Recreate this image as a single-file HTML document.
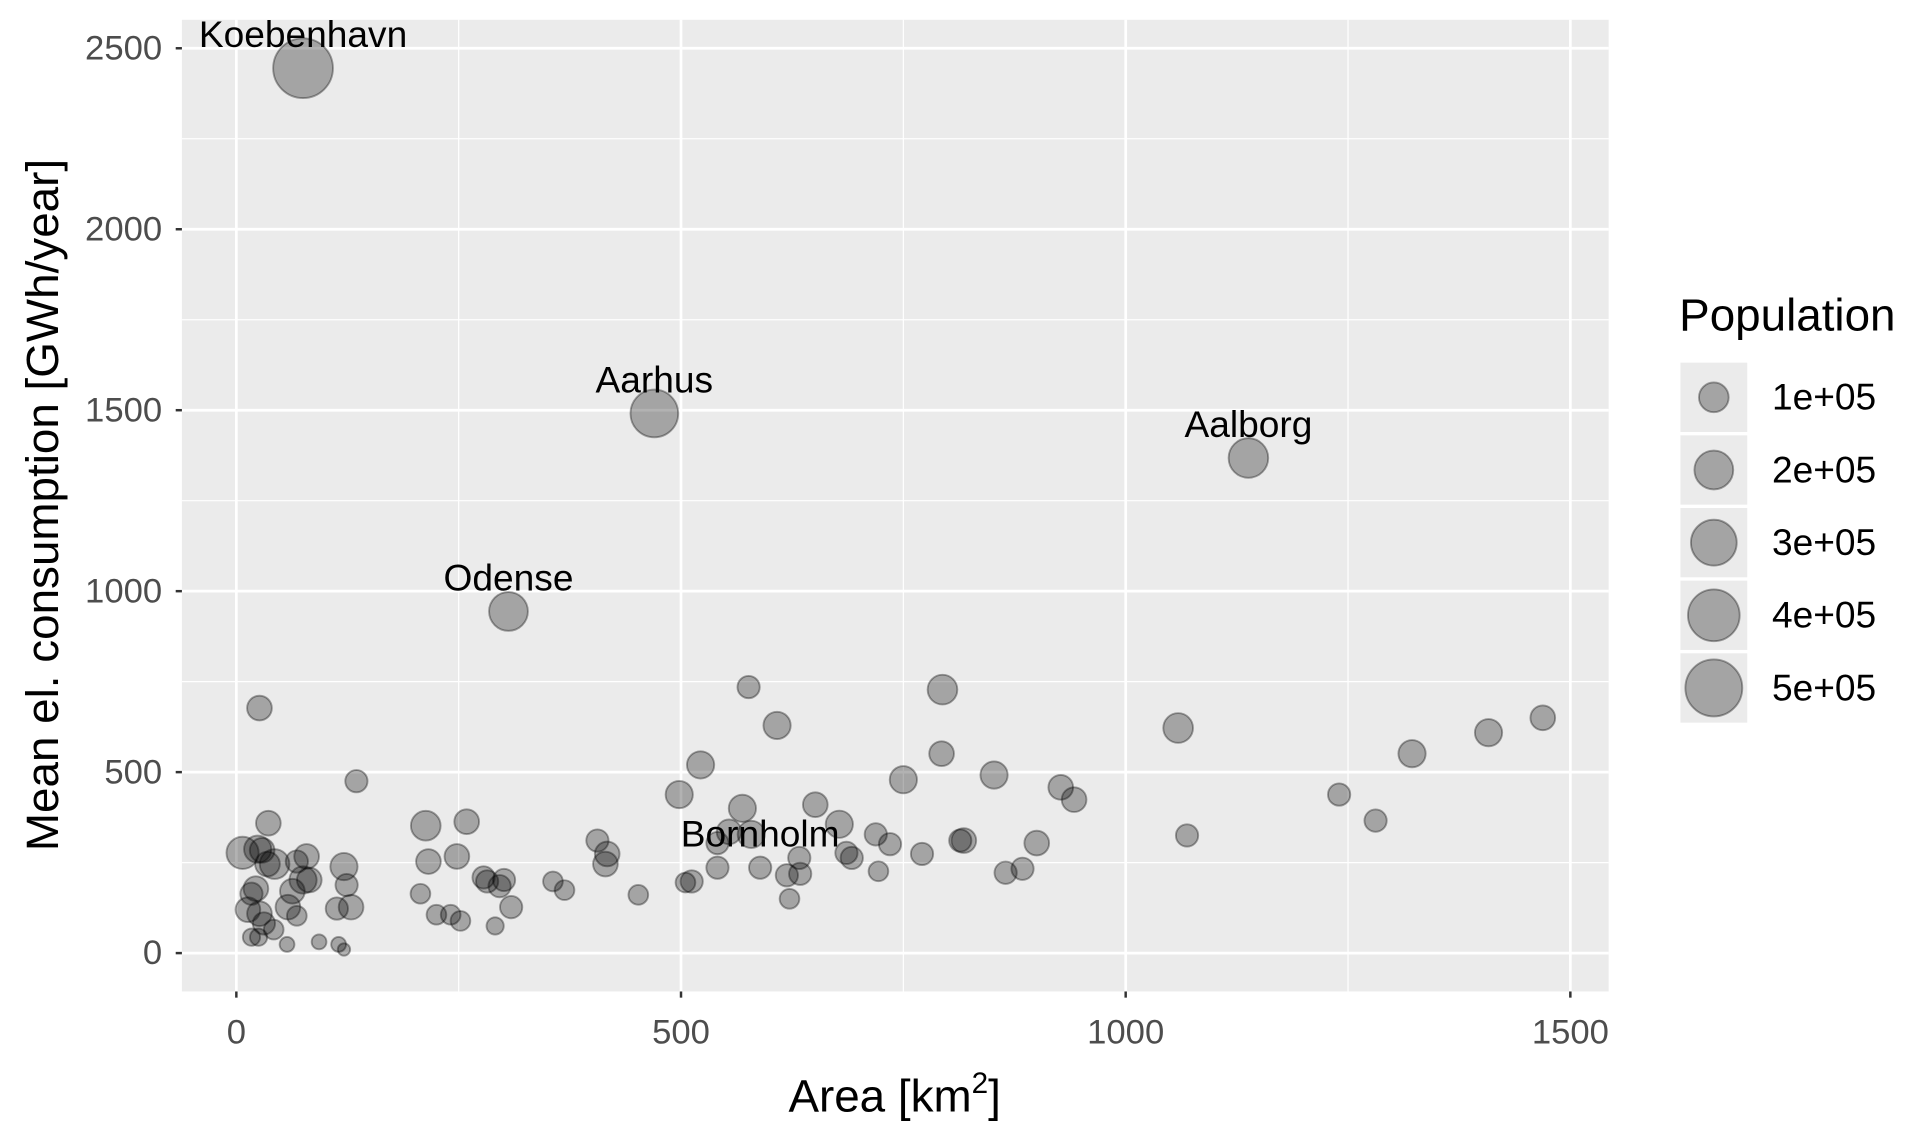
<!DOCTYPE html>
<html><head><meta charset="utf-8"><style>
html,body{margin:0;padding:0;background:#fff;}
svg{display:block;font-family:"Liberation Sans",sans-serif;}
</style></head><body>
<svg id="chart" width="1918" height="1140" viewBox="0 0 1550 921" preserveAspectRatio="none" xmlns="http://www.w3.org/2000/svg">
<g id="g"></g>
</svg>
<script>
const areas=[26,135,7,24,29,36,43,35,79,68,82,75,22,17,13,26,31,42,17,25,57,93,115,121,63,68,58,121,124,113,129,213,259,216,248,207,225,241,252,278,282,296,301,309,291,356,369,406,417,415,452,505,512,498,522,569,576,608,554,579,541,633,619,634,622,651,678,686,692,719,735,722,771,750,794,793,814,818,852,865,884,900,927,942,1059,1069,1240,1281,1322,1408,1469,541,75,470,1138,306,589];
const consumption=[677,475,277,287,284,359,246,246,267,253,202,202,178,164,120,109,82,65,44,44,24,31,24,10,171,103,127,239,188,123,127,352,363,253,267,164,106,106,89,209,198,185,202,127,75,198,174,311,274,246,161,195,198,438,520,400,735,629,335,328,236,263,215,219,150,410,356,277,263,328,301,226,274,479,728,551,311,311,492,222,233,304,458,424,622,325,438,366,551,609,650,304,2445,1491,1368,944,236];
const population=[60000,44000,124000,79000,60000,60000,100000,60000,60000,44000,60000,79000,60000,44000,60000,60000,44000,30000,19000,19000,10600,10600,10600,4600,60000,30000,60000,79000,44000,44000,60000,100000,60000,60000,60000,30000,30000,30000,30000,44000,44000,44000,44000,44000,19000,30000,30000,44000,60000,60000,30000,30000,44000,79000,79000,79000,44000,79000,60000,79000,44000,44000,44000,44000,30000,60000,79000,44000,44000,44000,44000,30000,44000,79000,100000,60000,44000,60000,79000,44000,44000,60000,60000,60000,100000,44000,44000,44000,79000,79000,60000,44000,560000,330000,210000,200000,44000];
const cityNames=["Koebenhavn","Aarhus","Aalborg","Odense","Bornholm"];
const cityArea=[75,470,1138,306,589];
const cityCons=[2445,1491,1368,944,236];
const xTicks=[0,500,1000,1500];
const yTicks=[0,500,1000,1500,2000,2500];
const legendPops=[100000,200000,300000,400000,500000];
const legendLabels=["1e+05","2e+05","3e+05","4e+05","5e+05"];

const NS="http://www.w3.org/2000/svg";
const g=document.getElementById('g');
const PL=147,PR=1300,PT=16,PB=801;
const X=v=>191+v*0.7187;
const Y=v=>770-v*0.2924;
const R=p=>3.1+8.9*Math.sqrt(p/1e5);
function mk(tag,attrs,parent){const e=document.createElementNS(NS,tag);for(const k in attrs)e.setAttribute(k,attrs[k]);(parent||g).appendChild(e);return e;}

let e=mk('rect',{x:PL,y:PT,width:PR-PL,height:PB-PT,fill:'#ebebeb'});


for(let i=0;i<xTicks.length-1;i++){const v=(xTicks[i]+xTicks[i+1])/2;
 e=mk('line',{x1:X(v),x2:X(v),y1:PT,y2:PB,stroke:'#fff','stroke-width':1});
 
 }
for(let i=0;i<yTicks.length-1;i++){const v=(yTicks[i]+yTicks[i+1])/2;
 e=mk('line',{x1:PL,x2:PR,y1:Y(v),y2:Y(v),stroke:'#fff','stroke-width':1});
 
 }
xTicks.forEach(v=>{
 e=mk('line',{x1:X(v),x2:X(v),y1:PT,y2:PB,stroke:'#fff','stroke-width':2.2});
 
 
 e=mk('line',{x1:X(v),x2:X(v),y1:PB,y2:PB+5,stroke:'#333','stroke-width':2});
 
 
 e=mk('text',{x:X(v),y:843,'text-anchor':'middle','font-size':28,fill:'#4d4d4d'});e.textContent=v;
 
 
});
yTicks.forEach(v=>{
 e=mk('line',{x1:PL,x2:PR,y1:Y(v),y2:Y(v),stroke:'#fff','stroke-width':2.2});
 
 
 e=mk('line',{x1:PL-5,x2:PL,y1:Y(v),y2:Y(v),stroke:'#333','stroke-width':2});
 
 
 e=mk('text',{x:PL-16,y:Y(v)+9,'text-anchor':'end','font-size':28,fill:'#4d4d4d'});e.textContent=v;
 
 
});
for(let i=0;i<areas.length;i++){
 e=mk('circle',{cx:X(areas[i]),cy:Y(consumption[i]),r:R(population[i]),fill:'rgba(0,0,0,0.3)',stroke:'rgba(0,0,0,0.35)','stroke-width':1.5});
 
 
}
for(let i=0;i<cityNames.length;i++){
 e=mk('text',{x:X(cityArea[i]),y:Y(cityCons[i])-17,'text-anchor':'middle','font-size':30,fill:'#000'});e.textContent=cityNames[i];
 
 
}
e=mk('text',{x:0,y:0,'text-anchor':'middle','font-size':37,fill:'#000',transform:'translate(47,408) rotate(-90)'});e.textContent='Mean el. consumption [GWh/year]';


e=mk('text',{x:723,y:898,'text-anchor':'middle','font-size':37,fill:'#000'});
e.innerHTML='Area [km<tspan dy="-15" font-size="24">2</tspan><tspan dy="15">]</tspan>';


e=mk('text',{x:1357,y:267,'font-size':37,fill:'#000'});e.textContent='Population';


legendPops.forEach((p,i)=>{
 const cy=321+i*58.7;
 e=mk('rect',{x:1358,y:cy-28,width:54,height:56,fill:'#ebebeb'});
 
 
 e=mk('circle',{cx:1385,cy:cy,r:R(p),fill:'rgba(0,0,0,0.3)',stroke:'rgba(0,0,0,0.35)','stroke-width':1.5});
 
 
 e=mk('text',{x:1432,y:cy+10,'font-size':30,fill:'#000'});e.textContent=legendLabels[i];
 
 
});
</script>
</body></html>
